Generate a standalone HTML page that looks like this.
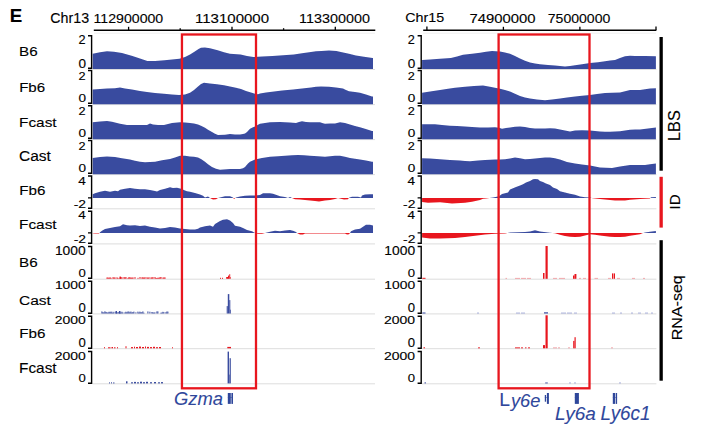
<!DOCTYPE html>
<html><head><meta charset="utf-8"><style>
html,body{margin:0;padding:0;background:#fff;width:705px;height:430px;overflow:hidden}
svg{display:block}
text{font-family:"Liberation Sans",Arial,sans-serif}
</style></head><body>
<svg width="705" height="430" viewBox="0 0 705 430" shape-rendering="geometricPrecision">
<rect width="705" height="430" fill="#fff"/>
<text x="9.65" y="22.00" font-size="19.04" textLength="12.48" lengthAdjust="spacingAndGlyphs" fill="#000" stroke="#000" stroke-width="0.12" font-weight="bold">E</text>
<text x="50.28" y="22.66" font-size="14.03" textLength="38.85" lengthAdjust="spacingAndGlyphs" fill="#000" stroke="#000" stroke-width="0.12">Chr13</text>
<text x="93.54" y="23.07" font-size="13.70" textLength="69.70" lengthAdjust="spacingAndGlyphs" fill="#000" stroke="#000" stroke-width="0.12">112900000</text>
<text x="194.97" y="23.27" font-size="13.70" textLength="74.11" lengthAdjust="spacingAndGlyphs" fill="#000" stroke="#000" stroke-width="0.12">113100000</text>
<text x="299.12" y="23.17" font-size="13.70" textLength="70.83" lengthAdjust="spacingAndGlyphs" fill="#000" stroke="#000" stroke-width="0.12">113300000</text>
<text x="405.27" y="22.47" font-size="13.62" textLength="38.93" lengthAdjust="spacingAndGlyphs" fill="#000" stroke="#000" stroke-width="0.12">Chr15</text>
<text x="469.44" y="22.97" font-size="13.70" textLength="66.14" lengthAdjust="spacingAndGlyphs" fill="#000" stroke="#000" stroke-width="0.12">74900000</text>
<text x="547.78" y="22.97" font-size="13.70" textLength="62.57" lengthAdjust="spacingAndGlyphs" fill="#000" stroke="#000" stroke-width="0.12">75000000</text>
<line x1="93.8" y1="30.2" x2="375.3" y2="30.2" stroke="#000" stroke-width="1.5"/>
<line x1="128.6" y1="26.8" x2="128.6" y2="30.2" stroke="#000" stroke-width="1.3"/>
<line x1="232.0" y1="26.8" x2="232.0" y2="30.2" stroke="#000" stroke-width="1.3"/>
<line x1="335.3" y1="26.8" x2="335.3" y2="30.2" stroke="#000" stroke-width="1.3"/>
<line x1="180.2" y1="28.2" x2="180.2" y2="29.9" stroke="#000" stroke-width="1.3"/>
<line x1="283.6" y1="28.2" x2="283.6" y2="29.9" stroke="#000" stroke-width="1.3"/>
<line x1="423.2" y1="30.2" x2="656.4" y2="30.2" stroke="#000" stroke-width="1.5"/>
<line x1="503.4" y1="26.8" x2="503.4" y2="30.2" stroke="#000" stroke-width="1.3"/>
<line x1="579.9" y1="26.8" x2="579.9" y2="30.2" stroke="#000" stroke-width="1.3"/>
<line x1="426.9" y1="26.6" x2="426.9" y2="30.1" stroke="#000" stroke-width="1.3"/>
<line x1="656.0" y1="26.6" x2="656.0" y2="30.1" stroke="#000" stroke-width="1.3"/>
<line x1="94" y1="33.2" x2="375" y2="33.2" stroke="#ebebeb" stroke-width="0.8"/>
<line x1="423" y1="33.2" x2="656" y2="33.2" stroke="#ebebeb" stroke-width="0.8"/>
<line x1="92.7" y1="69.5" x2="375.0" y2="69.5" stroke="#d9d9d9" stroke-width="0.9"/>
<line x1="422.1" y1="69.5" x2="656.4" y2="69.5" stroke="#d9d9d9" stroke-width="0.9"/>
<line x1="92.7" y1="104.60000000000001" x2="375.0" y2="104.60000000000001" stroke="#d9d9d9" stroke-width="0.9"/>
<line x1="422.1" y1="104.60000000000001" x2="656.4" y2="104.60000000000001" stroke="#d9d9d9" stroke-width="0.9"/>
<line x1="92.7" y1="139.6" x2="375.0" y2="139.6" stroke="#d9d9d9" stroke-width="0.9"/>
<line x1="422.1" y1="139.6" x2="656.4" y2="139.6" stroke="#d9d9d9" stroke-width="0.9"/>
<line x1="92.7" y1="174.6" x2="375.0" y2="174.6" stroke="#d9d9d9" stroke-width="0.9"/>
<line x1="422.1" y1="174.6" x2="656.4" y2="174.6" stroke="#d9d9d9" stroke-width="0.9"/>
<line x1="92.7" y1="208.8" x2="375.0" y2="208.8" stroke="#d9d9d9" stroke-width="0.9"/>
<line x1="422.1" y1="208.8" x2="656.4" y2="208.8" stroke="#d9d9d9" stroke-width="0.9"/>
<line x1="92.7" y1="243.9" x2="375.0" y2="243.9" stroke="#d9d9d9" stroke-width="0.9"/>
<line x1="422.1" y1="243.9" x2="656.4" y2="243.9" stroke="#d9d9d9" stroke-width="0.9"/>
<line x1="92.7" y1="279.2" x2="375.0" y2="279.2" stroke="#d9d9d9" stroke-width="0.9"/>
<line x1="422.1" y1="279.2" x2="656.4" y2="279.2" stroke="#d9d9d9" stroke-width="0.9"/>
<line x1="92.7" y1="313.9" x2="375.0" y2="313.9" stroke="#d9d9d9" stroke-width="0.9"/>
<line x1="422.1" y1="313.9" x2="656.4" y2="313.9" stroke="#d9d9d9" stroke-width="0.9"/>
<line x1="92.7" y1="348.7" x2="375.0" y2="348.7" stroke="#d9d9d9" stroke-width="0.9"/>
<line x1="422.1" y1="348.7" x2="656.4" y2="348.7" stroke="#d9d9d9" stroke-width="0.9"/>
<line x1="92.7" y1="383.79999999999995" x2="375.0" y2="383.79999999999995" stroke="#d9d9d9" stroke-width="0.9"/>
<line x1="422.1" y1="383.79999999999995" x2="656.4" y2="383.79999999999995" stroke="#d9d9d9" stroke-width="0.9"/>
<path d="M92.7,69.1 L92.7,53.8 L100.0,52.3 L107.0,51.3 L114.0,51.8 L122.0,53.0 L132.5,56.0 L140.0,58.6 L147.4,60.9 L155.0,61.0 L164.5,60.2 L172.0,59.6 L179.4,58.7 L185.0,57.0 L190.0,54.5 L194.0,52.0 L198.5,49.1 L201.0,47.8 L204.9,47.4 L210.0,48.3 L217.7,50.2 L224.0,52.2 L230.0,53.8 L240.6,54.5 L247.0,56.0 L253.4,57.0 L262.0,56.6 L272.5,56.0 L283.0,55.3 L293.8,54.5 L302.0,53.3 L310.9,51.9 L316.0,51.2 L321.5,50.9 L329.0,50.6 L336.4,50.9 L342.0,52.2 L349.0,53.8 L356.0,55.4 L364.0,56.8 L372.6,58.1 L373.0,58.1 L373.0,69.1 Z" fill="#394b9f"/>
<path d="M92.7,104.2 L92.7,89.6 L100.0,89.0 L107.0,88.5 L115.0,88.2 L120.0,87.4 L125.0,88.4 L132.0,89.6 L140.0,91.0 L147.0,92.1 L155.0,93.0 L164.0,93.8 L172.0,94.5 L179.0,94.9 L185.0,94.4 L190.0,92.8 L194.0,90.0 L198.0,86.4 L201.0,84.0 L204.0,82.8 L210.0,83.4 L217.0,84.3 L224.0,85.3 L230.0,86.6 L236.0,87.8 L241.0,89.0 L246.0,91.0 L251.0,92.6 L255.0,93.8 L258.0,94.2 L260.0,93.4 L266.0,92.6 L272.0,91.7 L282.0,90.6 L293.0,89.6 L302.0,88.5 L311.0,87.4 L316.0,86.8 L321.0,86.4 L329.0,86.8 L336.0,87.4 L343.0,88.5 L346.0,90.0 L349.0,91.3 L355.0,92.0 L360.0,92.8 L366.0,94.5 L372.0,96.4 L373.0,96.4 L373.0,104.2 Z" fill="#394b9f"/>
<path d="M92.7,139.2 L92.7,122.3 L100.0,121.4 L107.0,120.9 L112.0,121.7 L116.0,122.8 L120.0,123.8 L127.0,125.1 L137.0,125.1 L147.0,125.1 L150.0,123.6 L153.0,124.6 L158.0,125.1 L164.0,125.1 L168.0,124.0 L172.0,123.0 L180.0,122.3 L185.0,122.5 L190.0,123.0 L194.0,123.5 L198.0,124.5 L201.0,125.8 L205.0,127.7 L208.0,129.8 L212.0,131.9 L215.0,133.8 L218.0,135.1 L225.0,134.7 L230.0,134.0 L235.0,134.4 L240.0,134.5 L243.0,134.0 L245.0,133.4 L247.0,131.9 L250.0,128.7 L253.0,127.2 L255.0,126.6 L258.0,124.8 L260.0,123.8 L265.0,122.9 L270.0,122.3 L280.0,121.9 L290.0,122.6 L296.0,123.0 L299.0,122.0 L302.0,121.3 L306.0,122.0 L310.0,122.3 L320.0,122.3 L323.0,123.3 L325.0,123.8 L330.0,123.4 L335.0,123.4 L340.0,122.3 L345.0,123.0 L350.0,124.4 L355.0,126.0 L360.0,127.3 L365.0,128.7 L372.0,130.9 L373.0,130.9 L373.0,139.2 Z" fill="#394b9f"/>
<path d="M92.7,174.2 L92.7,157.9 L100.0,157.0 L107.0,156.4 L115.0,157.0 L122.0,158.3 L130.0,159.6 L135.0,160.7 L140.0,161.7 L145.0,162.3 L150.0,162.1 L155.0,161.7 L162.0,160.2 L170.0,159.1 L175.0,157.4 L180.0,155.7 L185.0,155.8 L190.0,156.4 L194.0,156.8 L198.0,157.4 L201.0,159.0 L205.0,161.7 L208.0,164.3 L212.0,167.0 L216.0,168.8 L220.0,169.8 L230.0,169.1 L240.0,169.1 L243.0,168.2 L245.0,167.0 L248.0,163.5 L250.0,161.7 L255.0,159.6 L262.0,157.9 L270.0,156.8 L278.0,156.2 L285.0,155.7 L292.0,155.2 L298.0,154.9 L304.0,155.2 L310.0,155.7 L318.0,156.3 L325.0,156.8 L330.0,156.2 L335.0,155.7 L340.0,155.7 L345.0,156.8 L350.0,157.9 L355.0,158.8 L360.0,159.6 L366.0,160.6 L372.0,161.7 L373.0,161.7 L373.0,174.2 Z" fill="#394b9f"/>
<path d="M422.1,69.1 L422.1,60.1 L430.0,59.5 L440.0,58.8 L450.9,58.0 L457.0,56.4 L463.0,54.8 L472.0,53.7 L480.0,52.7 L486.0,51.8 L492.0,51.0 L500.0,51.6 L505.0,52.5 L510.0,53.8 L515.0,55.9 L520.0,58.5 L525.0,60.8 L530.0,62.4 L535.0,63.4 L540.0,64.3 L548.0,65.0 L555.0,65.5 L560.0,66.0 L565.0,66.5 L570.0,66.0 L575.0,65.3 L582.0,64.3 L590.0,63.1 L598.0,62.2 L605.0,61.2 L610.0,60.6 L615.0,60.0 L620.0,58.0 L625.0,56.3 L630.0,55.8 L635.0,55.9 L645.0,56.1 L655.9,56.3 L655.9,69.1 Z" fill="#394b9f"/>
<path d="M422.1,104.2 L422.1,92.7 L430.0,91.5 L440.0,89.9 L448.0,88.8 L455.0,87.8 L465.0,86.7 L474.0,86.1 L483.0,85.6 L490.0,86.7 L495.0,87.7 L500.0,88.8 L505.0,89.9 L510.0,91.6 L515.0,93.8 L520.0,96.1 L525.0,97.5 L530.0,98.5 L537.0,99.5 L545.0,100.2 L552.0,99.4 L560.0,98.5 L567.0,97.5 L575.0,96.6 L582.0,95.8 L590.0,94.9 L597.0,94.0 L605.0,93.0 L612.0,92.7 L620.0,92.5 L625.0,91.2 L630.0,90.1 L640.0,90.1 L645.0,89.2 L650.0,88.4 L655.9,88.2 L655.9,104.2 Z" fill="#394b9f"/>
<path d="M422.1,139.2 L422.1,124.2 L428.0,124.2 L435.0,124.2 L442.0,124.9 L450.0,125.8 L457.0,126.1 L465.0,126.4 L472.0,126.9 L480.0,127.4 L488.0,127.4 L495.0,127.2 L499.0,127.8 L502.0,128.8 L506.0,128.0 L510.0,127.4 L515.0,126.8 L520.0,126.4 L525.0,127.0 L530.0,128.0 L535.0,128.4 L540.0,128.6 L545.0,128.5 L550.0,128.2 L555.0,128.6 L560.0,129.4 L565.0,130.4 L570.0,131.4 L575.0,130.4 L582.0,130.2 L590.0,130.4 L595.0,131.0 L600.0,131.6 L605.0,131.8 L610.0,131.8 L615.0,131.5 L620.0,131.2 L625.0,130.5 L630.0,129.8 L635.0,129.6 L640.0,129.4 L648.0,128.5 L655.9,127.4 L655.9,139.2 Z" fill="#394b9f"/>
<path d="M422.1,174.2 L422.1,158.2 L430.0,158.6 L440.0,159.2 L450.0,159.9 L460.0,160.6 L465.0,161.0 L470.0,161.2 L478.0,160.6 L485.0,160.0 L490.0,159.8 L495.0,159.6 L500.0,159.4 L505.0,159.2 L510.0,158.4 L515.0,157.6 L520.0,158.3 L525.0,159.2 L530.0,159.0 L535.0,158.6 L540.0,158.1 L545.0,157.6 L550.0,157.6 L555.0,158.3 L560.0,159.5 L567.0,162.0 L575.0,163.5 L582.0,164.5 L590.0,165.5 L595.0,166.5 L600.0,167.5 L606.0,167.8 L612.0,167.9 L616.0,167.2 L620.0,166.5 L625.0,165.8 L630.0,165.1 L637.0,165.1 L645.0,165.1 L650.0,164.3 L655.9,163.5 L655.9,174.2 Z" fill="#394b9f"/>
<clipPath id="c1a"><rect x="91.7" y="158.0" width="282.3" height="40"/></clipPath>
<clipPath id="c1b"><rect x="91.7" y="198.0" width="282.3" height="40"/></clipPath>
<path d="M92.7,198.0 L92.7,194.2 L95.0,193.2 L100.0,191.8 L105.0,190.8 L110.0,191.8 L115.0,190.8 L118.0,191.3 L120.0,189.7 L125.0,188.8 L130.0,188.0 L135.0,188.8 L140.0,189.3 L145.0,189.3 L150.0,190.0 L155.0,191.0 L157.0,191.6 L160.0,190.0 L165.0,188.8 L170.0,187.2 L173.0,188.0 L177.0,187.7 L181.0,188.8 L185.0,190.5 L187.0,191.3 L190.0,191.8 L195.0,192.9 L200.0,194.5 L203.0,195.8 L205.0,197.5 L208.0,196.5 L210.0,198.0 L213.0,199.6 L216.0,199.2 L218.0,198.0 L222.0,197.0 L225.0,196.2 L230.0,196.2 L233.0,197.5 L234.0,199.0 L236.0,197.5 L240.0,196.5 L245.0,195.7 L250.0,195.4 L255.0,195.4 L260.0,194.9 L263.0,193.2 L270.0,193.2 L273.0,193.7 L278.0,195.4 L280.0,196.2 L285.0,197.0 L288.0,198.0 L290.0,197.0 L292.0,198.0 L295.0,199.3 L300.0,199.6 L305.0,200.0 L310.0,200.4 L315.0,200.9 L319.0,201.5 L325.0,200.4 L330.0,200.0 L335.0,199.0 L338.0,198.0 L340.0,198.4 L344.0,199.6 L348.0,199.2 L349.0,197.7 L352.0,196.7 L358.0,196.7 L361.0,197.5 L362.0,195.4 L365.0,194.5 L370.0,194.2 L373.0,194.2 L373.0,198.0 Z" fill="#394b9f" clip-path="url(#c1a)"/>
<path d="M92.7,198.0 L92.7,194.2 L95.0,193.2 L100.0,191.8 L105.0,190.8 L110.0,191.8 L115.0,190.8 L118.0,191.3 L120.0,189.7 L125.0,188.8 L130.0,188.0 L135.0,188.8 L140.0,189.3 L145.0,189.3 L150.0,190.0 L155.0,191.0 L157.0,191.6 L160.0,190.0 L165.0,188.8 L170.0,187.2 L173.0,188.0 L177.0,187.7 L181.0,188.8 L185.0,190.5 L187.0,191.3 L190.0,191.8 L195.0,192.9 L200.0,194.5 L203.0,195.8 L205.0,197.5 L208.0,196.5 L210.0,198.0 L213.0,199.6 L216.0,199.2 L218.0,198.0 L222.0,197.0 L225.0,196.2 L230.0,196.2 L233.0,197.5 L234.0,199.0 L236.0,197.5 L240.0,196.5 L245.0,195.7 L250.0,195.4 L255.0,195.4 L260.0,194.9 L263.0,193.2 L270.0,193.2 L273.0,193.7 L278.0,195.4 L280.0,196.2 L285.0,197.0 L288.0,198.0 L290.0,197.0 L292.0,198.0 L295.0,199.3 L300.0,199.6 L305.0,200.0 L310.0,200.4 L315.0,200.9 L319.0,201.5 L325.0,200.4 L330.0,200.0 L335.0,199.0 L338.0,198.0 L340.0,198.4 L344.0,199.6 L348.0,199.2 L349.0,197.7 L352.0,196.7 L358.0,196.7 L361.0,197.5 L362.0,195.4 L365.0,194.5 L370.0,194.2 L373.0,194.2 L373.0,198.0 Z" fill="#e8161e" clip-path="url(#c1b)"/>
<clipPath id="c2a"><rect x="91.7" y="193.1" width="282.3" height="40"/></clipPath>
<clipPath id="c2b"><rect x="91.7" y="233.1" width="282.3" height="40"/></clipPath>
<path d="M92.7,233.1 L92.7,233.3 L95.0,233.6 L99.0,233.6 L100.0,232.3 L102.0,230.7 L105.0,229.1 L110.0,227.9 L115.0,227.1 L120.0,226.3 L123.0,224.3 L127.0,225.2 L130.0,225.5 L135.0,225.2 L140.0,226.0 L145.0,225.5 L150.0,226.8 L155.0,227.6 L160.0,228.4 L165.0,227.9 L170.0,227.1 L175.0,227.6 L180.0,228.4 L185.0,229.1 L190.0,229.6 L195.0,229.6 L198.0,228.7 L200.0,227.4 L205.0,226.3 L210.0,225.5 L213.0,226.8 L215.0,223.9 L220.0,221.1 L223.0,219.8 L227.0,219.3 L230.0,220.6 L233.0,223.0 L235.0,225.8 L240.0,226.8 L243.0,227.9 L247.0,230.0 L252.0,231.2 L255.0,233.0 L258.0,233.8 L262.0,233.8 L265.0,233.0 L270.0,231.7 L275.0,230.7 L280.0,231.2 L285.0,230.4 L290.0,230.0 L293.0,230.7 L296.0,232.0 L297.0,233.0 L300.0,234.6 L303.0,234.4 L305.0,233.6 L345.0,233.6 L347.0,234.6 L349.0,234.2 L350.0,233.0 L351.0,231.2 L355.0,229.6 L360.0,228.7 L363.0,226.8 L366.0,224.7 L370.0,224.7 L373.0,225.5 L373.0,233.1 Z" fill="#394b9f" clip-path="url(#c2a)"/>
<path d="M92.7,233.1 L92.7,233.3 L95.0,233.6 L99.0,233.6 L100.0,232.3 L102.0,230.7 L105.0,229.1 L110.0,227.9 L115.0,227.1 L120.0,226.3 L123.0,224.3 L127.0,225.2 L130.0,225.5 L135.0,225.2 L140.0,226.0 L145.0,225.5 L150.0,226.8 L155.0,227.6 L160.0,228.4 L165.0,227.9 L170.0,227.1 L175.0,227.6 L180.0,228.4 L185.0,229.1 L190.0,229.6 L195.0,229.6 L198.0,228.7 L200.0,227.4 L205.0,226.3 L210.0,225.5 L213.0,226.8 L215.0,223.9 L220.0,221.1 L223.0,219.8 L227.0,219.3 L230.0,220.6 L233.0,223.0 L235.0,225.8 L240.0,226.8 L243.0,227.9 L247.0,230.0 L252.0,231.2 L255.0,233.0 L258.0,233.8 L262.0,233.8 L265.0,233.0 L270.0,231.7 L275.0,230.7 L280.0,231.2 L285.0,230.4 L290.0,230.0 L293.0,230.7 L296.0,232.0 L297.0,233.0 L300.0,234.6 L303.0,234.4 L305.0,233.6 L345.0,233.6 L347.0,234.6 L349.0,234.2 L350.0,233.0 L351.0,231.2 L355.0,229.6 L360.0,228.7 L363.0,226.8 L366.0,224.7 L370.0,224.7 L373.0,225.5 L373.0,233.1 Z" fill="#e8161e" clip-path="url(#c2b)"/>
<clipPath id="c3a"><rect x="421.1" y="158.0" width="235.79999999999995" height="40"/></clipPath>
<clipPath id="c3b"><rect x="421.1" y="198.0" width="235.79999999999995" height="40"/></clipPath>
<path d="M422.1,198.0 L422.1,202.0 L428.0,202.7 L440.0,202.3 L452.0,203.4 L465.0,202.7 L472.0,201.7 L480.0,199.9 L483.0,198.8 L486.0,198.4 L493.0,197.6 L498.0,196.4 L500.0,195.5 L502.0,194.0 L505.0,193.2 L508.0,192.4 L510.0,189.6 L513.0,188.3 L516.0,187.0 L520.0,185.5 L523.0,184.2 L526.0,182.6 L530.0,181.0 L533.0,179.3 L535.0,179.0 L538.0,179.3 L540.0,181.0 L543.0,182.1 L546.0,183.4 L550.0,185.0 L553.0,187.5 L557.0,189.1 L560.0,191.2 L565.0,192.4 L570.0,193.7 L575.0,194.8 L580.0,196.4 L585.0,197.2 L590.0,197.6 L593.0,198.3 L600.0,199.0 L610.0,200.0 L615.0,200.5 L620.0,200.5 L625.0,200.5 L630.0,199.7 L640.0,198.9 L650.0,198.5 L651.0,197.2 L655.9,196.9 L655.9,198.0 Z" fill="#394b9f" clip-path="url(#c3a)"/>
<path d="M422.1,198.0 L422.1,202.0 L428.0,202.7 L440.0,202.3 L452.0,203.4 L465.0,202.7 L472.0,201.7 L480.0,199.9 L483.0,198.8 L486.0,198.4 L493.0,197.6 L498.0,196.4 L500.0,195.5 L502.0,194.0 L505.0,193.2 L508.0,192.4 L510.0,189.6 L513.0,188.3 L516.0,187.0 L520.0,185.5 L523.0,184.2 L526.0,182.6 L530.0,181.0 L533.0,179.3 L535.0,179.0 L538.0,179.3 L540.0,181.0 L543.0,182.1 L546.0,183.4 L550.0,185.0 L553.0,187.5 L557.0,189.1 L560.0,191.2 L565.0,192.4 L570.0,193.7 L575.0,194.8 L580.0,196.4 L585.0,197.2 L590.0,197.6 L593.0,198.3 L600.0,199.0 L610.0,200.0 L615.0,200.5 L620.0,200.5 L625.0,200.5 L630.0,199.7 L640.0,198.9 L650.0,198.5 L651.0,197.2 L655.9,196.9 L655.9,198.0 Z" fill="#e8161e" clip-path="url(#c3b)"/>
<clipPath id="c4a"><rect x="421.1" y="193.1" width="235.79999999999995" height="40"/></clipPath>
<clipPath id="c4b"><rect x="421.1" y="233.1" width="235.79999999999995" height="40"/></clipPath>
<path d="M422.1,233.1 L422.1,237.5 L430.0,238.5 L440.0,238.5 L455.0,238.1 L465.0,237.0 L475.0,235.7 L485.0,234.4 L495.0,233.7 L505.0,233.4 L510.0,232.6 L525.0,232.0 L530.0,231.4 L535.0,230.3 L540.0,231.5 L550.0,232.7 L555.0,233.3 L560.0,234.7 L565.0,236.0 L570.0,236.8 L575.0,237.1 L580.0,236.8 L585.0,235.5 L590.0,234.2 L595.0,234.7 L600.0,235.5 L610.0,236.7 L615.0,237.1 L620.0,237.1 L625.0,236.7 L630.0,235.8 L640.0,234.2 L643.0,233.1 L645.0,232.5 L650.0,231.8 L655.9,231.0 L655.9,233.1 Z" fill="#394b9f" clip-path="url(#c4a)"/>
<path d="M422.1,233.1 L422.1,237.5 L430.0,238.5 L440.0,238.5 L455.0,238.1 L465.0,237.0 L475.0,235.7 L485.0,234.4 L495.0,233.7 L505.0,233.4 L510.0,232.6 L525.0,232.0 L530.0,231.4 L535.0,230.3 L540.0,231.5 L550.0,232.7 L555.0,233.3 L560.0,234.7 L565.0,236.0 L570.0,236.8 L575.0,237.1 L580.0,236.8 L585.0,235.5 L590.0,234.2 L595.0,234.7 L600.0,235.5 L610.0,236.7 L615.0,237.1 L620.0,237.1 L625.0,236.7 L630.0,235.8 L640.0,234.2 L643.0,233.1 L645.0,232.5 L650.0,231.8 L655.9,231.0 L655.9,233.1 Z" fill="#e8161e" clip-path="url(#c4b)"/>
<rect x="106.5" y="277.5" width="1.0" height="1.3" fill="#e8161e"/>
<rect x="107.5" y="277.4" width="1.0" height="1.4" fill="#e8161e"/>
<rect x="108.5" y="277.9" width="1.0" height="0.9" fill="#e8161e"/>
<rect x="109.5" y="277.2" width="1.0" height="1.6" fill="#e8161e"/>
<rect x="110.5" y="277.8" width="1.0" height="1.0" fill="#e8161e"/>
<rect x="112.5" y="277.2" width="1.0" height="1.6" fill="#e8161e"/>
<rect x="113.5" y="277.4" width="1.0" height="1.4" fill="#e8161e"/>
<rect x="114.5" y="277.4" width="1.0" height="1.4" fill="#e8161e"/>
<rect x="116.5" y="277.3" width="1.0" height="1.5" fill="#e8161e"/>
<rect x="117.5" y="277.9" width="1.0" height="0.9" fill="#e8161e"/>
<rect x="119.5" y="277.7" width="1.0" height="1.1" fill="#e8161e"/>
<rect x="120.5" y="277.1" width="1.0" height="1.7" fill="#e8161e"/>
<rect x="121.5" y="277.3" width="1.0" height="1.5" fill="#e8161e"/>
<rect x="123.5" y="277.1" width="1.0" height="1.7" fill="#e8161e"/>
<rect x="124.5" y="277.2" width="1.0" height="1.6" fill="#e8161e"/>
<rect x="125.5" y="277.1" width="1.0" height="1.7" fill="#e8161e"/>
<rect x="127.5" y="277.9" width="1.0" height="0.9" fill="#e8161e"/>
<rect x="128.5" y="277.0" width="1.0" height="1.8" fill="#e8161e"/>
<rect x="129.5" y="277.4" width="1.0" height="1.4" fill="#e8161e"/>
<rect x="130.5" y="277.5" width="1.0" height="1.3" fill="#e8161e"/>
<rect x="131.5" y="277.6" width="1.0" height="1.2" fill="#e8161e"/>
<rect x="132.5" y="277.4" width="1.0" height="1.4" fill="#e8161e"/>
<rect x="134.5" y="277.1" width="1.0" height="1.7" fill="#e8161e"/>
<rect x="137.5" y="277.8" width="1.0" height="1.0" fill="#e8161e"/>
<rect x="141.5" y="277.3" width="1.0" height="1.5" fill="#e8161e"/>
<rect x="142.5" y="277.2" width="1.0" height="1.6" fill="#e8161e"/>
<rect x="143.5" y="277.7" width="1.0" height="1.1" fill="#e8161e"/>
<rect x="144.5" y="277.1" width="1.0" height="1.7" fill="#e8161e"/>
<rect x="146.5" y="277.2" width="1.0" height="1.6" fill="#e8161e"/>
<rect x="147.5" y="277.8" width="1.0" height="1.0" fill="#e8161e"/>
<rect x="148.5" y="277.2" width="1.0" height="1.6" fill="#e8161e"/>
<rect x="150.5" y="277.4" width="1.0" height="1.4" fill="#e8161e"/>
<rect x="151.5" y="277.3" width="1.0" height="1.5" fill="#e8161e"/>
<rect x="152.5" y="277.1" width="1.0" height="1.7" fill="#e8161e"/>
<rect x="154.5" y="277.0" width="1.0" height="1.8" fill="#e8161e"/>
<rect x="155.5" y="277.9" width="1.0" height="0.9" fill="#e8161e"/>
<rect x="156.5" y="278.0" width="1.0" height="0.8" fill="#e8161e"/>
<rect x="157.5" y="277.6" width="1.0" height="1.2" fill="#e8161e"/>
<rect x="158.5" y="277.8" width="1.0" height="1.0" fill="#e8161e"/>
<rect x="159.5" y="277.1" width="1.0" height="1.7" fill="#e8161e"/>
<rect x="160.5" y="277.0" width="1.0" height="1.8" fill="#e8161e"/>
<rect x="162.5" y="277.5" width="1.0" height="1.3" fill="#e8161e"/>
<rect x="163.5" y="277.4" width="1.0" height="1.4" fill="#e8161e"/>
<rect x="164.5" y="277.4" width="1.0" height="1.4" fill="#e8161e"/>
<rect x="119.5" y="276.6" width="1.5" height="2.2" fill="#e8161e"/>
<rect x="139.5" y="277.0" width="1.0" height="1.8" fill="#e8161e"/>
<rect x="220.0" y="277.8" width="1.0" height="1.0" fill="#e8161e"/>
<rect x="222.0" y="277.8" width="1.0" height="1.0" fill="#e8161e"/>
<rect x="226.2" y="277.0" width="1.8" height="1.8" fill="#e8161e"/>
<rect x="228.0" y="275.6" width="1.3" height="3.2" fill="#e8161e"/>
<rect x="229.3" y="274.2" width="0.9" height="4.6" fill="#e8161e"/>
<rect x="230.2" y="277.0" width="0.6" height="1.8" fill="#e8161e"/>
<rect x="101.4" y="311.4" width="1.0" height="2.1" fill="#394b9f"/>
<rect x="102.4" y="312.1" width="1.0" height="1.4" fill="#394b9f"/>
<rect x="103.4" y="312.4" width="1.0" height="1.1" fill="#394b9f"/>
<rect x="104.4" y="311.3" width="1.0" height="2.2" fill="#394b9f"/>
<rect x="105.4" y="311.9" width="1.0" height="1.6" fill="#394b9f"/>
<rect x="106.4" y="312.1" width="1.0" height="1.4" fill="#394b9f"/>
<rect x="107.4" y="312.7" width="1.0" height="0.8" fill="#394b9f"/>
<rect x="108.4" y="311.8" width="1.0" height="1.7" fill="#394b9f"/>
<rect x="109.4" y="311.8" width="1.0" height="1.7" fill="#394b9f"/>
<rect x="110.4" y="311.7" width="1.0" height="1.8" fill="#394b9f"/>
<rect x="111.4" y="311.7" width="1.0" height="1.8" fill="#394b9f"/>
<rect x="112.4" y="312.7" width="1.0" height="0.8" fill="#394b9f"/>
<rect x="113.4" y="311.8" width="1.0" height="1.7" fill="#394b9f"/>
<rect x="115.4" y="312.1" width="1.0" height="1.4" fill="#394b9f"/>
<rect x="116.4" y="312.3" width="1.0" height="1.2" fill="#394b9f"/>
<rect x="117.4" y="312.3" width="1.0" height="1.2" fill="#394b9f"/>
<rect x="118.4" y="311.9" width="1.0" height="1.6" fill="#394b9f"/>
<rect x="119.4" y="312.2" width="1.0" height="1.3" fill="#394b9f"/>
<rect x="120.4" y="312.7" width="1.0" height="0.8" fill="#394b9f"/>
<rect x="121.4" y="311.7" width="1.0" height="1.8" fill="#394b9f"/>
<rect x="122.4" y="312.4" width="1.0" height="1.1" fill="#394b9f"/>
<rect x="124.4" y="312.4" width="1.0" height="1.1" fill="#394b9f"/>
<rect x="125.4" y="311.7" width="1.0" height="1.8" fill="#394b9f"/>
<rect x="126.4" y="312.2" width="1.0" height="1.3" fill="#394b9f"/>
<rect x="127.4" y="311.5" width="1.0" height="2.0" fill="#394b9f"/>
<rect x="128.4" y="311.5" width="1.0" height="2.0" fill="#394b9f"/>
<rect x="129.4" y="312.2" width="1.0" height="1.3" fill="#394b9f"/>
<rect x="130.4" y="311.5" width="1.0" height="2.0" fill="#394b9f"/>
<rect x="131.4" y="312.4" width="1.0" height="1.1" fill="#394b9f"/>
<rect x="132.4" y="312.0" width="1.0" height="1.5" fill="#394b9f"/>
<rect x="133.4" y="311.6" width="1.0" height="1.9" fill="#394b9f"/>
<rect x="135.4" y="312.3" width="1.0" height="1.2" fill="#394b9f"/>
<rect x="137.4" y="311.6" width="1.0" height="1.9" fill="#394b9f"/>
<rect x="138.4" y="312.5" width="1.0" height="1.0" fill="#394b9f"/>
<rect x="139.4" y="311.6" width="1.0" height="1.9" fill="#394b9f"/>
<rect x="140.4" y="312.2" width="1.0" height="1.3" fill="#394b9f"/>
<rect x="141.4" y="312.1" width="1.0" height="1.4" fill="#394b9f"/>
<rect x="142.4" y="311.4" width="1.0" height="2.1" fill="#394b9f"/>
<rect x="143.4" y="312.7" width="1.0" height="0.8" fill="#394b9f"/>
<rect x="147.4" y="311.4" width="1.0" height="2.1" fill="#394b9f"/>
<rect x="149.4" y="311.7" width="1.0" height="1.8" fill="#394b9f"/>
<rect x="151.4" y="312.0" width="1.0" height="1.5" fill="#394b9f"/>
<rect x="152.4" y="312.2" width="1.0" height="1.3" fill="#394b9f"/>
<rect x="153.4" y="312.6" width="1.0" height="0.9" fill="#394b9f"/>
<rect x="154.4" y="312.3" width="1.0" height="1.2" fill="#394b9f"/>
<rect x="156.4" y="311.4" width="1.0" height="2.1" fill="#394b9f"/>
<rect x="157.4" y="311.4" width="1.0" height="2.1" fill="#394b9f"/>
<rect x="160.4" y="312.7" width="1.0" height="0.8" fill="#394b9f"/>
<rect x="161.4" y="312.5" width="1.0" height="1.0" fill="#394b9f"/>
<rect x="162.4" y="311.8" width="1.0" height="1.7" fill="#394b9f"/>
<rect x="163.4" y="312.1" width="1.0" height="1.4" fill="#394b9f"/>
<rect x="165.4" y="312.2" width="1.0" height="1.3" fill="#394b9f"/>
<rect x="166.4" y="311.5" width="1.0" height="2.0" fill="#394b9f"/>
<rect x="167.4" y="311.6" width="1.0" height="1.9" fill="#394b9f"/>
<rect x="115.5" y="311.0" width="1.5" height="2.5" fill="#394b9f"/>
<rect x="119.0" y="311.0" width="1.5" height="2.5" fill="#394b9f"/>
<rect x="226.7" y="306.1" width="1.1" height="7.4" fill="#394b9f"/>
<rect x="227.8" y="294.1" width="1.5" height="19.4" fill="#394b9f"/>
<rect x="229.3" y="300.1" width="1.0" height="13.4" fill="#394b9f"/>
<rect x="230.3" y="309.7" width="0.7" height="3.8" fill="#394b9f"/>
<rect x="104.0" y="347.2" width="1.0" height="1.1" fill="#e8161e"/>
<rect x="108.0" y="347.3" width="2.5" height="1.0" fill="#e8161e"/>
<rect x="111.5" y="347.0" width="1.5" height="1.3" fill="#e8161e"/>
<rect x="114.0" y="347.3" width="1.5" height="1.0" fill="#e8161e"/>
<rect x="117.0" y="347.2" width="1.0" height="1.1" fill="#e8161e"/>
<rect x="125.5" y="346.2" width="1.0" height="2.1" fill="#e8161e"/>
<rect x="131.0" y="347.1" width="2.0" height="1.2" fill="#e8161e"/>
<rect x="134.0" y="346.7" width="1.0" height="1.6" fill="#e8161e"/>
<rect x="136.0" y="347.0" width="2.0" height="1.3" fill="#e8161e"/>
<rect x="139.0" y="346.6" width="2.0" height="1.7" fill="#e8161e"/>
<rect x="142.0" y="347.0" width="2.0" height="1.3" fill="#e8161e"/>
<rect x="145.0" y="346.5" width="1.0" height="1.8" fill="#e8161e"/>
<rect x="147.0" y="346.9" width="2.0" height="1.4" fill="#e8161e"/>
<rect x="150.0" y="347.1" width="2.0" height="1.2" fill="#e8161e"/>
<rect x="153.0" y="346.8" width="2.0" height="1.5" fill="#e8161e"/>
<rect x="156.0" y="347.2" width="2.0" height="1.1" fill="#e8161e"/>
<rect x="159.0" y="347.0" width="2.0" height="1.3" fill="#e8161e"/>
<rect x="172.0" y="347.3" width="1.0" height="1.0" fill="#e8161e"/>
<rect x="227.3" y="346.9" width="3.7" height="1.4" fill="#e8161e"/>
<rect x="109.0" y="382.4" width="1.0" height="1.0" fill="#394b9f"/>
<rect x="111.0" y="382.3" width="1.0" height="1.1" fill="#394b9f"/>
<rect x="113.0" y="382.5" width="1.5" height="0.9" fill="#394b9f"/>
<rect x="126.0" y="381.3" width="1.5" height="2.1" fill="#394b9f"/>
<rect x="131.0" y="382.3" width="2.0" height="1.1" fill="#394b9f"/>
<rect x="134.0" y="381.9" width="2.0" height="1.5" fill="#394b9f"/>
<rect x="137.0" y="382.3" width="2.0" height="1.1" fill="#394b9f"/>
<rect x="140.0" y="381.7" width="2.0" height="1.7" fill="#394b9f"/>
<rect x="143.0" y="382.2" width="2.0" height="1.2" fill="#394b9f"/>
<rect x="146.0" y="381.8" width="2.0" height="1.6" fill="#394b9f"/>
<rect x="150.0" y="382.2" width="2.0" height="1.2" fill="#394b9f"/>
<rect x="154.0" y="382.0" width="2.0" height="1.4" fill="#394b9f"/>
<rect x="158.0" y="382.3" width="2.0" height="1.1" fill="#394b9f"/>
<rect x="161.0" y="382.1" width="2.0" height="1.3" fill="#394b9f"/>
<rect x="227.6" y="351.6" width="1.4" height="31.8" fill="#394b9f"/>
<rect x="229.0" y="374.6" width="0.6" height="8.8" fill="#394b9f"/>
<rect x="229.6" y="358.2" width="1.2" height="25.2" fill="#394b9f"/>
<rect x="422.3" y="277.8" width="3.2" height="1.0" fill="#e8161e"/>
<rect x="505.5" y="277.9" width="1.5" height="0.9" fill="#f0a0a4"/>
<rect x="515.0" y="277.9" width="5.0" height="0.9" fill="#f0a0a4"/>
<rect x="521.0" y="277.9" width="5.0" height="0.9" fill="#f0a0a4"/>
<rect x="527.0" y="277.9" width="4.0" height="0.9" fill="#f0a0a4"/>
<rect x="553.0" y="277.9" width="4.0" height="0.9" fill="#f0a0a4"/>
<rect x="559.0" y="277.9" width="6.0" height="0.9" fill="#f0a0a4"/>
<rect x="579.0" y="277.9" width="2.0" height="0.9" fill="#f0a0a4"/>
<rect x="583.0" y="277.9" width="3.0" height="0.9" fill="#f0a0a4"/>
<rect x="594.5" y="277.9" width="3.5" height="0.9" fill="#f0a0a4"/>
<rect x="608.0" y="277.9" width="3.0" height="0.9" fill="#f0a0a4"/>
<rect x="617.0" y="277.9" width="3.0" height="0.9" fill="#f0a0a4"/>
<rect x="632.0" y="277.9" width="3.0" height="0.9" fill="#f0a0a4"/>
<rect x="643.0" y="277.9" width="2.0" height="0.9" fill="#f0a0a4"/>
<rect x="543.0" y="273.0" width="1.5" height="5.8" fill="#e8161e"/>
<rect x="545.5" y="246.0" width="2.2" height="32.8" fill="#e8161e"/>
<rect x="573.0" y="275.5" width="1.5" height="3.3" fill="#e8161e"/>
<rect x="574.5" y="274.0" width="1.9" height="4.8" fill="#e8161e"/>
<rect x="612.0" y="273.4" width="1.3" height="5.4" fill="#e8161e"/>
<rect x="613.8" y="273.4" width="1.2" height="5.4" fill="#e8161e"/>
<rect x="422.3" y="312.5" width="3.2" height="1.0" fill="#394b9f"/>
<rect x="477.0" y="312.6" width="2.0" height="0.9" fill="#a0a8d8"/>
<rect x="516.0" y="312.6" width="4.0" height="0.9" fill="#a0a8d8"/>
<rect x="521.0" y="312.6" width="4.0" height="0.9" fill="#a0a8d8"/>
<rect x="561.0" y="312.6" width="5.0" height="0.9" fill="#a0a8d8"/>
<rect x="567.0" y="312.6" width="5.0" height="0.9" fill="#a0a8d8"/>
<rect x="574.0" y="312.6" width="3.0" height="0.9" fill="#a0a8d8"/>
<rect x="612.0" y="312.6" width="3.0" height="0.9" fill="#a0a8d8"/>
<rect x="620.0" y="312.6" width="2.0" height="0.9" fill="#a0a8d8"/>
<rect x="631.0" y="312.6" width="2.0" height="0.9" fill="#a0a8d8"/>
<rect x="638.0" y="312.6" width="3.0" height="0.9" fill="#a0a8d8"/>
<rect x="645.0" y="312.6" width="3.0" height="0.9" fill="#a0a8d8"/>
<rect x="651.0" y="312.6" width="2.0" height="0.9" fill="#a0a8d8"/>
<rect x="544.0" y="312.3" width="4.0" height="1.2" fill="#394b9f"/>
<rect x="423.5" y="347.3" width="1.5" height="1.0" fill="#e8161e"/>
<rect x="478.0" y="347.4" width="2.0" height="0.9" fill="#e8161e"/>
<rect x="515.0" y="347.4" width="5.0" height="0.9" fill="#e8161e"/>
<rect x="521.0" y="347.4" width="2.0" height="0.9" fill="#e8161e"/>
<rect x="525.0" y="347.4" width="1.5" height="0.9" fill="#e8161e"/>
<rect x="528.0" y="347.4" width="2.0" height="0.9" fill="#e8161e"/>
<rect x="553.0" y="347.4" width="4.0" height="0.9" fill="#f0a0a4"/>
<rect x="558.0" y="347.4" width="2.0" height="0.9" fill="#f0a0a4"/>
<rect x="568.0" y="347.4" width="2.0" height="0.9" fill="#f0a0a4"/>
<rect x="611.0" y="347.4" width="2.0" height="0.9" fill="#f0a0a4"/>
<rect x="543.0" y="345.1" width="2.0" height="3.2" fill="#e8161e"/>
<rect x="545.5" y="315.3" width="2.2" height="33.0" fill="#e8161e"/>
<rect x="573.2" y="340.9" width="1.3" height="7.4" fill="#e8161e"/>
<rect x="574.5" y="337.2" width="1.2" height="11.1" fill="#e8161e"/>
<rect x="424.5" y="382.4" width="1.5" height="1.0" fill="#394b9f"/>
<rect x="569.0" y="382.5" width="2.0" height="0.9" fill="#a0a8d8"/>
<rect x="574.0" y="382.5" width="2.0" height="0.9" fill="#a0a8d8"/>
<rect x="619.0" y="382.5" width="2.0" height="0.9" fill="#a0a8d8"/>
<rect x="545.2" y="382.5" width="2.6" height="0.9" fill="#394b9f"/>
<path d="M88.0,35.7 H91.6 V68.2 H88.0" fill="none" stroke="#000" stroke-width="1.4"/>
<path d="M88.0,70.5 H91.6 V103.3 H88.0" fill="none" stroke="#000" stroke-width="1.4"/>
<path d="M88.0,105.7 H91.6 V138.3 H88.0" fill="none" stroke="#000" stroke-width="1.4"/>
<path d="M88.0,140.5 H91.6 V173.3 H88.0" fill="none" stroke="#000" stroke-width="1.4"/>
<path d="M88.0,176.0 H91.6 V208.3 H88.0 M88.0,197.9 H91.6" fill="none" stroke="#000" stroke-width="1.4"/>
<path d="M88.0,211.3 H91.6 V243.3 H88.0 M88.0,232.9 H91.6" fill="none" stroke="#000" stroke-width="1.4"/>
<path d="M88.0,246.5 H91.6 V278.3 H88.0" fill="none" stroke="#000" stroke-width="1.4"/>
<path d="M88.0,281.3 H91.6 V313.3 H88.0" fill="none" stroke="#000" stroke-width="1.4"/>
<path d="M88.0,316.3 H91.6 V348.3 H88.0" fill="none" stroke="#000" stroke-width="1.4"/>
<path d="M88.0,351.5 H91.6 V383.3 H88.0" fill="none" stroke="#000" stroke-width="1.4"/>
<path d="M417.6,35.7 H421.2 V68.2 H417.6" fill="none" stroke="#000" stroke-width="1.4"/>
<path d="M417.6,70.5 H421.2 V103.3 H417.6" fill="none" stroke="#000" stroke-width="1.4"/>
<path d="M417.6,105.7 H421.2 V138.3 H417.6" fill="none" stroke="#000" stroke-width="1.4"/>
<path d="M417.6,140.5 H421.2 V173.3 H417.6" fill="none" stroke="#000" stroke-width="1.4"/>
<path d="M417.6,176.0 H421.2 V208.3 H417.6 M417.6,197.9 H421.2" fill="none" stroke="#000" stroke-width="1.4"/>
<path d="M417.6,211.3 H421.2 V243.3 H417.6 M417.6,232.9 H421.2" fill="none" stroke="#000" stroke-width="1.4"/>
<path d="M417.6,246.5 H421.2 V278.3 H417.6" fill="none" stroke="#000" stroke-width="1.4"/>
<path d="M417.6,281.3 H421.2 V313.3 H417.6" fill="none" stroke="#000" stroke-width="1.4"/>
<path d="M417.6,316.3 H421.2 V348.3 H417.6" fill="none" stroke="#000" stroke-width="1.4"/>
<path d="M417.6,351.5 H421.2 V383.3 H417.6" fill="none" stroke="#000" stroke-width="1.4"/>
<text x="78.41" y="44.40" font-size="11.89" textLength="7.08" lengthAdjust="spacingAndGlyphs" fill="#000" stroke="#000" stroke-width="0.12">2</text>
<text x="78.42" y="67.58" font-size="12.15" textLength="7.56" lengthAdjust="spacingAndGlyphs" fill="#000" stroke="#000" stroke-width="0.12">0</text>
<text x="78.41" y="79.50" font-size="11.46" textLength="7.08" lengthAdjust="spacingAndGlyphs" fill="#000" stroke="#000" stroke-width="0.12">2</text>
<text x="78.42" y="102.39" font-size="11.30" textLength="7.56" lengthAdjust="spacingAndGlyphs" fill="#000" stroke="#000" stroke-width="0.12">0</text>
<text x="78.41" y="114.70" font-size="11.17" textLength="7.08" lengthAdjust="spacingAndGlyphs" fill="#000" stroke="#000" stroke-width="0.12">2</text>
<text x="78.42" y="137.39" font-size="11.30" textLength="7.56" lengthAdjust="spacingAndGlyphs" fill="#000" stroke="#000" stroke-width="0.12">0</text>
<text x="78.41" y="149.70" font-size="11.17" textLength="7.08" lengthAdjust="spacingAndGlyphs" fill="#000" stroke="#000" stroke-width="0.12">2</text>
<text x="78.42" y="172.39" font-size="11.30" textLength="7.56" lengthAdjust="spacingAndGlyphs" fill="#000" stroke="#000" stroke-width="0.12">0</text>
<text x="78.24" y="184.90" font-size="10.90" textLength="7.51" lengthAdjust="spacingAndGlyphs" fill="#000" stroke="#000" stroke-width="0.12">4</text>
<text x="73.73" y="208.30" font-size="11.31" textLength="12.31" lengthAdjust="spacingAndGlyphs" fill="#000" stroke="#000" stroke-width="0.12">-2</text>
<text x="78.24" y="219.00" font-size="10.32" textLength="7.51" lengthAdjust="spacingAndGlyphs" fill="#000" stroke="#000" stroke-width="0.12">4</text>
<text x="73.73" y="242.50" font-size="10.74" textLength="12.31" lengthAdjust="spacingAndGlyphs" fill="#000" stroke="#000" stroke-width="0.12">-2</text>
<text x="54.90" y="254.78" font-size="11.86" textLength="30.80" lengthAdjust="spacingAndGlyphs" fill="#000" stroke="#000" stroke-width="0.12">1000</text>
<text x="78.44" y="277.39" font-size="11.30" textLength="7.33" lengthAdjust="spacingAndGlyphs" fill="#000" stroke="#000" stroke-width="0.12">0</text>
<text x="54.90" y="288.79" font-size="11.58" textLength="30.80" lengthAdjust="spacingAndGlyphs" fill="#000" stroke="#000" stroke-width="0.12">1000</text>
<text x="78.44" y="311.98" font-size="11.86" textLength="7.33" lengthAdjust="spacingAndGlyphs" fill="#000" stroke="#000" stroke-width="0.12">0</text>
<text x="54.65" y="323.89" font-size="11.72" textLength="31.05" lengthAdjust="spacingAndGlyphs" fill="#000" stroke="#000" stroke-width="0.12">2000</text>
<text x="78.44" y="346.98" font-size="11.86" textLength="7.33" lengthAdjust="spacingAndGlyphs" fill="#000" stroke="#000" stroke-width="0.12">0</text>
<text x="54.65" y="359.59" font-size="11.58" textLength="31.05" lengthAdjust="spacingAndGlyphs" fill="#000" stroke="#000" stroke-width="0.12">2000</text>
<text x="78.44" y="382.39" font-size="11.30" textLength="7.33" lengthAdjust="spacingAndGlyphs" fill="#000" stroke="#000" stroke-width="0.12">0</text>
<text x="407.81" y="44.40" font-size="11.89" textLength="7.08" lengthAdjust="spacingAndGlyphs" fill="#000" stroke="#000" stroke-width="0.12">2</text>
<text x="407.82" y="67.58" font-size="12.15" textLength="7.56" lengthAdjust="spacingAndGlyphs" fill="#000" stroke="#000" stroke-width="0.12">0</text>
<text x="407.81" y="79.50" font-size="11.46" textLength="7.08" lengthAdjust="spacingAndGlyphs" fill="#000" stroke="#000" stroke-width="0.12">2</text>
<text x="407.82" y="102.39" font-size="11.30" textLength="7.56" lengthAdjust="spacingAndGlyphs" fill="#000" stroke="#000" stroke-width="0.12">0</text>
<text x="407.81" y="114.70" font-size="11.17" textLength="7.08" lengthAdjust="spacingAndGlyphs" fill="#000" stroke="#000" stroke-width="0.12">2</text>
<text x="407.82" y="137.39" font-size="11.30" textLength="7.56" lengthAdjust="spacingAndGlyphs" fill="#000" stroke="#000" stroke-width="0.12">0</text>
<text x="407.81" y="149.70" font-size="11.17" textLength="7.08" lengthAdjust="spacingAndGlyphs" fill="#000" stroke="#000" stroke-width="0.12">2</text>
<text x="407.82" y="172.39" font-size="11.30" textLength="7.56" lengthAdjust="spacingAndGlyphs" fill="#000" stroke="#000" stroke-width="0.12">0</text>
<text x="407.64" y="184.90" font-size="10.90" textLength="7.51" lengthAdjust="spacingAndGlyphs" fill="#000" stroke="#000" stroke-width="0.12">4</text>
<text x="403.13" y="208.30" font-size="11.31" textLength="12.31" lengthAdjust="spacingAndGlyphs" fill="#000" stroke="#000" stroke-width="0.12">-2</text>
<text x="407.64" y="219.00" font-size="10.32" textLength="7.51" lengthAdjust="spacingAndGlyphs" fill="#000" stroke="#000" stroke-width="0.12">4</text>
<text x="403.13" y="242.50" font-size="10.74" textLength="12.31" lengthAdjust="spacingAndGlyphs" fill="#000" stroke="#000" stroke-width="0.12">-2</text>
<text x="384.30" y="254.78" font-size="11.86" textLength="30.80" lengthAdjust="spacingAndGlyphs" fill="#000" stroke="#000" stroke-width="0.12">1000</text>
<text x="407.84" y="277.39" font-size="11.30" textLength="7.33" lengthAdjust="spacingAndGlyphs" fill="#000" stroke="#000" stroke-width="0.12">0</text>
<text x="384.30" y="288.79" font-size="11.58" textLength="30.80" lengthAdjust="spacingAndGlyphs" fill="#000" stroke="#000" stroke-width="0.12">1000</text>
<text x="407.84" y="311.98" font-size="11.86" textLength="7.33" lengthAdjust="spacingAndGlyphs" fill="#000" stroke="#000" stroke-width="0.12">0</text>
<text x="384.05" y="323.89" font-size="11.72" textLength="31.05" lengthAdjust="spacingAndGlyphs" fill="#000" stroke="#000" stroke-width="0.12">2000</text>
<text x="407.84" y="346.98" font-size="11.86" textLength="7.33" lengthAdjust="spacingAndGlyphs" fill="#000" stroke="#000" stroke-width="0.12">0</text>
<text x="384.05" y="359.59" font-size="11.58" textLength="31.05" lengthAdjust="spacingAndGlyphs" fill="#000" stroke="#000" stroke-width="0.12">2000</text>
<text x="407.84" y="382.39" font-size="11.30" textLength="7.33" lengthAdjust="spacingAndGlyphs" fill="#000" stroke="#000" stroke-width="0.12">0</text>
<text x="19.05" y="55.97" font-size="13.70" textLength="18.62" lengthAdjust="spacingAndGlyphs" fill="#000" stroke="#000" stroke-width="0.12">B6</text>
<text x="19.16" y="91.97" font-size="12.94" textLength="26.00" lengthAdjust="spacingAndGlyphs" fill="#000" stroke="#000" stroke-width="0.12">Fb6</text>
<text x="19.04" y="126.77" font-size="13.47" textLength="37.57" lengthAdjust="spacingAndGlyphs" fill="#000" stroke="#000" stroke-width="0.12">Fcast</text>
<text x="18.91" y="161.16" font-size="13.84" textLength="32.00" lengthAdjust="spacingAndGlyphs" fill="#000" stroke="#000" stroke-width="0.12">Cast</text>
<text x="19.15" y="194.58" font-size="12.66" textLength="26.22" lengthAdjust="spacingAndGlyphs" fill="#000" stroke="#000" stroke-width="0.12">Fb6</text>
<text x="19.04" y="229.27" font-size="13.62" textLength="37.57" lengthAdjust="spacingAndGlyphs" fill="#000" stroke="#000" stroke-width="0.12">Fcast</text>
<text x="19.05" y="266.97" font-size="13.70" textLength="18.62" lengthAdjust="spacingAndGlyphs" fill="#000" stroke="#000" stroke-width="0.12">B6</text>
<text x="18.91" y="304.97" font-size="13.70" textLength="32.00" lengthAdjust="spacingAndGlyphs" fill="#000" stroke="#000" stroke-width="0.12">Cast</text>
<text x="19.15" y="338.07" font-size="12.80" textLength="26.22" lengthAdjust="spacingAndGlyphs" fill="#000" stroke="#000" stroke-width="0.12">Fb6</text>
<text x="19.04" y="373.06" font-size="13.90" textLength="37.57" lengthAdjust="spacingAndGlyphs" fill="#000" stroke="#000" stroke-width="0.12">Fcast</text>
<rect x="181.95" y="34.5" width="74.05" height="353.8" fill="none" stroke="#e8161e" stroke-width="2.3"/>
<rect x="498.6" y="34.5" width="90.9" height="353.8" fill="none" stroke="#e8161e" stroke-width="2.3"/>
<rect x="659.5" y="37.0" width="3.3" height="133.7" fill="#000"/>
<rect x="659.5" y="176.8" width="3.3" height="50.8" fill="#e8161e"/>
<rect x="659.5" y="240.2" width="3.3" height="140.5" fill="#000"/>
<text x="0" y="0" transform="translate(679.85,140.93) rotate(-90)" font-size="15.68" textLength="30.68" lengthAdjust="spacingAndGlyphs" fill="#000" stroke="#000" stroke-width="0.12">LBS</text>
<text x="0" y="0" transform="translate(679.80,209.50) rotate(-90)" font-size="14.97" textLength="15.12" lengthAdjust="spacingAndGlyphs" fill="#000" stroke="#000" stroke-width="0.12">ID</text>
<text x="0" y="0" transform="translate(681.98,340.21) rotate(-90)" font-size="15.52" textLength="64.94" lengthAdjust="spacingAndGlyphs" fill="#000" stroke="#000" stroke-width="0.12">RNA-seq</text>
<text x="174.10" y="405.31" font-size="19.21" textLength="48.93" lengthAdjust="spacingAndGlyphs" fill="#2f479b" stroke="#2f479b" stroke-width="0.1" font-style="italic">Gzma</text>
<text x="499.32" y="406.40" font-size="18.90" textLength="10.72" lengthAdjust="spacingAndGlyphs" fill="#2f479b" stroke="#2f479b" stroke-width="0.1">L</text>
<text x="510.93" y="406.54" font-size="19.10" textLength="29.44" lengthAdjust="spacingAndGlyphs" fill="#2f479b" stroke="#2f479b" stroke-width="0.1" font-style="italic">y6e</text>
<text x="555.12" y="420.34" font-size="19.10" textLength="40.82" lengthAdjust="spacingAndGlyphs" fill="#2f479b" stroke="#2f479b" stroke-width="0.1" font-style="italic">Ly6a</text>
<text x="600.52" y="420.37" font-size="19.43" textLength="49.96" lengthAdjust="spacingAndGlyphs" fill="#2f479b" stroke="#2f479b" stroke-width="0.1" font-style="italic">Ly6c1</text>
<rect x="227.8" y="397.0" width="5.2" height="0.8" fill="#2f479b" opacity="0.6"/>
<rect x="227.8" y="393.0" width="3.0" height="10.9" fill="#2f479b"/>
<rect x="231.4" y="393.0" width="1.6" height="10.9" fill="#2f479b"/>
<rect x="544.8" y="397.0" width="4.1" height="0.8" fill="#2f479b" opacity="0.6"/>
<rect x="544.8" y="395.0" width="1.3" height="6.7" fill="#2f479b"/>
<rect x="546.9" y="393.0" width="2.0" height="10.9" fill="#2f479b"/>
<rect x="574.8" y="397.0" width="4.1" height="0.8" fill="#2f479b" opacity="0.6"/>
<rect x="574.8" y="393.0" width="4.1" height="10.9" fill="#2f479b"/>
<rect x="612.8" y="397.0" width="4.3" height="0.8" fill="#2f479b" opacity="0.6"/>
<rect x="612.8" y="393.0" width="2.4" height="10.9" fill="#2f479b"/>
<rect x="615.8" y="393.0" width="1.3" height="10.9" fill="#2f479b"/>
</svg>
</body></html>
